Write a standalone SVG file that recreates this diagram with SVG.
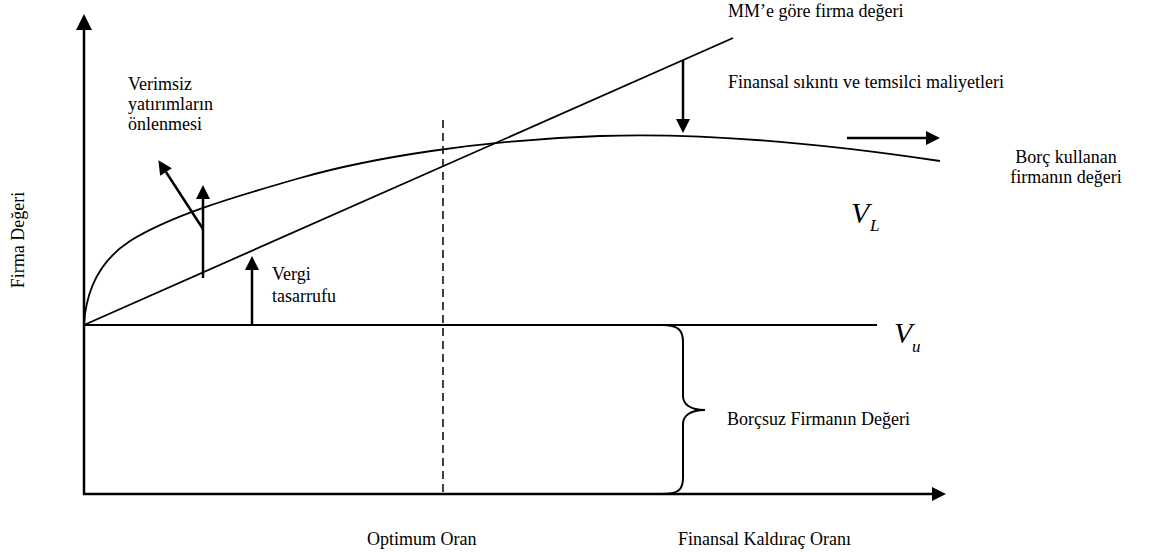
<svg xmlns="http://www.w3.org/2000/svg" width="1152" height="557" viewBox="0 0 1152 557">
<defs>
<style>
.t{font-family:"Liberation Serif","Times New Roman",serif;font-size:18px;fill:#000}
.v{font-family:"Liberation Serif","Times New Roman",serif;font-style:italic;fill:#000}
.ln{stroke:#000;fill:none}
</style>
<marker id="big" viewBox="0 0 10 10" refX="0" refY="5" markerWidth="17" markerHeight="16" markerUnits="userSpaceOnUse" orient="auto"><path d="M0,0 L10,5 L0,10 Z" fill="#000"/></marker>
<marker id="sm" viewBox="0 0 10 10" refX="0" refY="5" markerWidth="16" markerHeight="14" markerUnits="userSpaceOnUse" orient="auto"><path d="M0,0 L10,5 L0,10 Z" fill="#000"/></marker>
</defs>
<rect width="1152" height="557" fill="#fff"/>
<g id="connectors">
<line id="y-axis" class="ln" x1="84" y1="495" x2="84" y2="30" stroke-width="2.5" marker-end="url(#big)"/>
<line id="x-axis" class="ln" x1="83" y1="494" x2="932" y2="494" stroke-width="2.5" marker-end="url(#sm)"/>
<line id="vu-line" class="ln" x1="84" y1="325" x2="877" y2="325" stroke-width="2"/>
<line id="mm-line" class="ln" x1="84" y1="325" x2="733" y2="38" stroke-width="1.8"/>
<path id="vl-curve" class="ln" stroke-width="1.8" d="M84,325 C86,288 101,260 130,241 C170,216 230,198 300,178 C370,158 480,140 600,136 C720,132 840,146 940,161"/>
<line id="optimum" class="ln" x1="443" y1="120" x2="443" y2="494" stroke-width="1.5" stroke-dasharray="8,5"/>
<path id="brace" class="ln" stroke-width="2" d="M662,325 C678,325 683,330 683,342 L683,396 C683,404 690,410 705,410 C690,410 683,416 683,424 L683,478 C683,490 678,494 662,494"/>
<line id="arr-down" class="ln" x1="683" y1="60" x2="683" y2="119" stroke-width="2.5" marker-end="url(#sm)"/>
<line id="arr-right" class="ln" x1="847" y1="138" x2="926" y2="138" stroke-width="2.5" marker-end="url(#sm)"/>
<line id="arr-vergi" class="ln" x1="252" y1="325" x2="252" y2="270" stroke-width="2.5" marker-end="url(#sm)"/>
<line id="arr-up" class="ln" x1="203" y1="278" x2="203" y2="199" stroke-width="2.5" marker-end="url(#sm)"/>
<line id="arr-diag" class="ln" x1="203" y1="229" x2="166" y2="172" stroke-width="2.5" marker-end="url(#sm)"/>
</g>
<g id="label-mm"><text class="t" x="728" y="17">MM’e göre firma değeri</text></g>
<g id="label-finansal"><text class="t" x="728" y="88">Finansal sıkıntı ve temsilci maliyetleri</text></g>
<g id="label-verimsiz"><text class="t" x="128" y="90">Verimsiz</text><text class="t" x="128" y="110">yatırımların</text><text class="t" x="128" y="130">önlenmesi</text></g>
<g id="label-vergi"><text class="t" x="272" y="280">Vergi</text><text class="t" x="272" y="302">tasarrufu</text></g>
<g id="label-borc"><text class="t" x="1066" y="163" text-anchor="middle">Borç kullanan</text><text class="t" x="1066" y="183" text-anchor="middle">firmanın değeri</text></g>
<g id="label-vl"><text class="v" x="851" y="223" font-size="30">V</text><text class="v" x="870" y="231" font-size="17">L</text></g>
<g id="label-vu"><text class="v" x="894" y="343" font-size="30">V</text><text class="v" x="912" y="352" font-size="17">u</text></g>
<g id="label-borcsuz"><text class="t" x="727" y="425">Borçsuz Firmanın Değeri</text></g>
<g id="label-optimum"><text class="t" x="367" y="545">Optimum Oran</text></g>
<g id="label-kaldirac"><text class="t" x="678" y="545">Finansal Kaldıraç Oranı</text></g>
<g id="label-firma"><text class="t" font-size="16" transform="translate(24,240) rotate(-90)" text-anchor="middle">Firma Değeri</text></g>
</svg>
